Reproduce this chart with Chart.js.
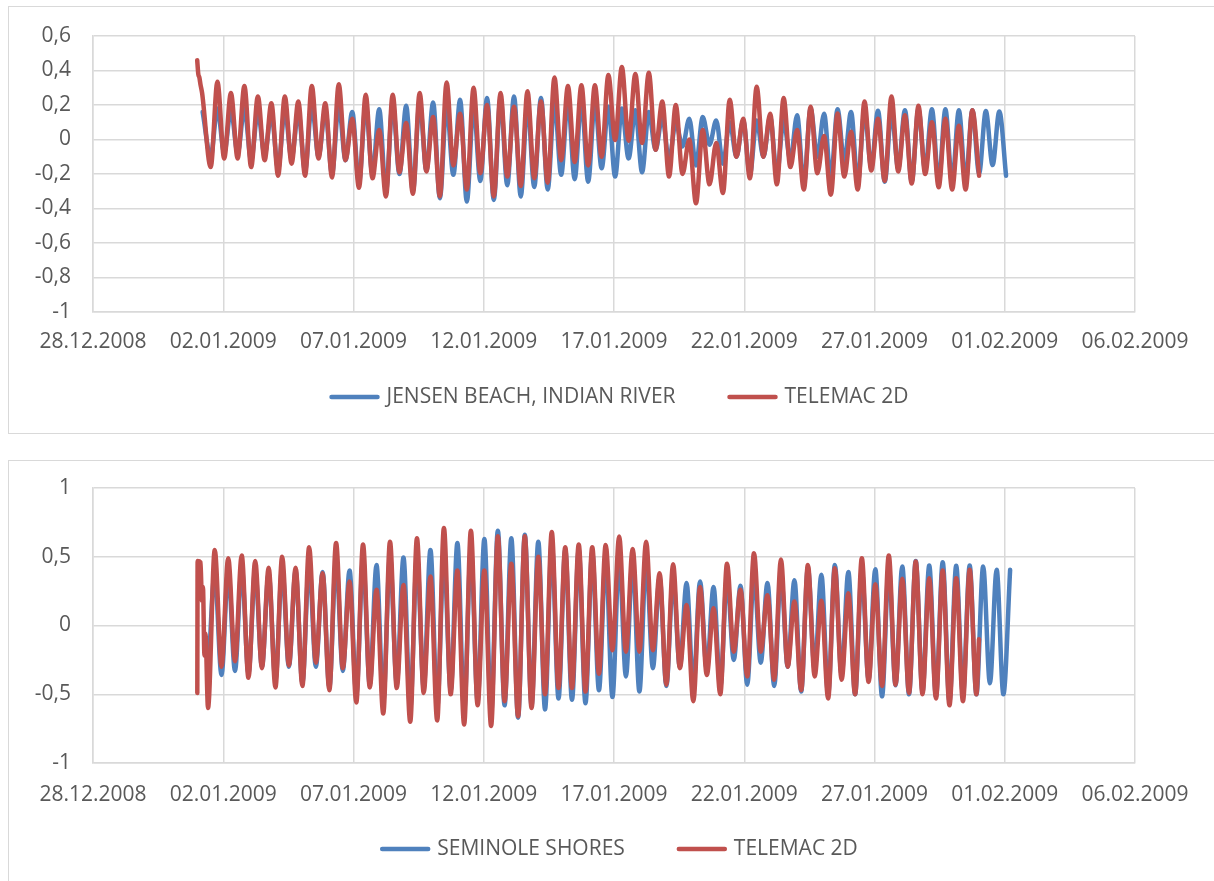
<!DOCTYPE html>
<html>
<head>
<meta charset="utf-8">
<title>Water level: gauges vs TELEMAC 2D</title>
<script src="https://cdn.jsdelivr.net/npm/chart.js@4.4.1/dist/chart.umd.min.js"></script>
<style>
  html, body { margin: 0; padding: 0; background: #fff; overflow: hidden; width: 1214px; height: 881px; }
  .panel { position: absolute; left: 8px; width: 1230px; border: 1px solid #d9d9d9; box-sizing: border-box; background: #fff; }
  #panelJensen { top: 6px; height: 428px; }
  #panelSeminole { top: 460px; height: 440px; }
  canvas { display: block; }
</style>
</head>
<body>
<div class="panel" id="panelJensen"><canvas id="chartJensen" width="1228" height="426"></canvas></div>
<div class="panel" id="panelSeminole"><canvas id="chartSeminole" width="1228" height="426"></canvas></div>

<script>
// ---- axis labels ----------------------------------------------------------
// x axis: days counted from 28.12.2008, one label every 5 days
const xTickLabels = ['28.12.2008', '02.01.2009', '07.01.2009', '12.01.2009', '17.01.2009',
                     '22.01.2009', '27.01.2009', '01.02.2009', '06.02.2009'];
const jensenYTickLabels = ['-1', '-0,8', '-0,6', '-0,4', '-0,2', '0', '0,2', '0,4', '0,6'];
const seminoleYTickLabels = ['-1', '-0,5', '0', '0,5', '1'];

// ---- time base ------------------------------------------------------------
// successive high / low waters are half a semidiurnal (12.42 h) period apart
const HALF_TIDE_DAYS = 12.42 / 2 / 24;
const DAY_JAN_1 = 4;                    // 01.01.2009 00:00 in days after 28.12.2008
const jensenFirstExtremeDay = 4.518;    // first low water after the model start
const seminoleFirstExtremeDay = 4.415;

// ---- JENSEN BEACH, INDIAN RIVER (m) ----------------------------------------
const jensenObsLeadHours = [5];
const jensenObsLead = [0.16];
const jensenObs = [
  -0.10, 0.18, -0.08, 0.17, -0.08, 0.18, -0.12, 0.16, -0.09, 0.15,
  -0.17, 0.17, -0.11, 0.16, -0.18, 0.20, -0.10, 0.17, -0.20, 0.20,
  -0.12, 0.16, -0.25, 0.20, -0.20, 0.175, -0.30, 0.21, -0.20, 0.195,
  -0.30, 0.22, -0.18, 0.215, -0.34, 0.20, -0.205, 0.23, -0.36, 0.20,
  -0.24, 0.24, -0.35, 0.24, -0.265, 0.25, -0.33, 0.21, -0.275, 0.24,
  -0.29, 0.22, -0.205, 0.23, -0.23, 0.23, -0.245, 0.22, -0.167, 0.19,
  -0.215, 0.18, -0.11, 0.17, -0.19, 0.16, -0.06, 0.13, -0.12, 0.10,
  -0.04, 0.12, -0.15, 0.13, -0.03, 0.11, -0.14, 0.10, -0.10, 0.11,
  -0.20, 0.11, -0.10, 0.13, -0.20, 0.11, -0.12, 0.14, -0.26, 0.18,
  -0.10, 0.15, -0.225, 0.175, -0.13, 0.16, -0.25, 0.16, -0.16, 0.167,
  -0.245, 0.16, -0.167, 0.17, -0.245, 0.175, -0.177, 0.175, -0.25, 0.175,
  -0.25, 0.17, -0.245, 0.17, -0.196, 0.165, -0.148, 0.163, -0.21
];
const jensenModelLeadHours = [0, 1, 2, 3, 4.5];
const jensenModelLead = [0.46, 0.38, 0.36, 0.32, 0.27];
const jensenModel = [
  -0.16, 0.335, -0.11, 0.27, -0.11, 0.31, -0.16, 0.25, -0.12, 0.21,
  -0.21, 0.25, -0.14, 0.22, -0.21, 0.31, -0.11, 0.21, -0.22, 0.32,
  -0.12, 0.12, -0.28, 0.26, -0.225, 0.055, -0.33, 0.26, -0.19, 0.095,
  -0.315, 0.27, -0.185, 0.13, -0.33, 0.33, -0.15, 0.15, -0.29, 0.30,
  -0.195, 0.20, -0.33, 0.27, -0.215, 0.19, -0.27, 0.28, -0.225, 0.22,
  -0.25, 0.36, -0.12, 0.31, -0.13, 0.315, -0.15, 0.315, -0.10, 0.374,
  -0.003, 0.42, -0.007, 0.38, -0.02, 0.387, -0.06, 0.22, -0.215, 0.20,
  -0.20, 0.0, -0.37, 0.055, -0.26, -0.02, -0.31, 0.23, -0.10, 0.12,
  -0.225, 0.306, -0.10, 0.15, -0.26, 0.24, -0.16, 0.055, -0.29, 0.19,
  -0.196, 0.02, -0.32, 0.15, -0.215, 0.045, -0.29, 0.22, -0.18, 0.12,
  -0.24, 0.25, -0.185, 0.14, -0.255, 0.195, -0.20, 0.10, -0.277, 0.12,
  -0.29, 0.08, -0.29, 0.17, -0.21
];

// ---- SEMINOLE SHORES (m) ---------------------------------------------------
const seminoleObs = [
  -0.40, 0.38, -0.36, 0.40, -0.33, 0.42, -0.35, 0.40, -0.30, 0.38,
  -0.40, 0.42, -0.30, 0.40, -0.42, 0.45, -0.30, 0.39, -0.45, 0.48,
  -0.33, 0.40, -0.50, 0.48, -0.43, 0.44, -0.55, 0.50, -0.42, 0.494,
  -0.60, 0.50, -0.45, 0.55, -0.60, 0.52, -0.47, 0.60, -0.62, 0.55,
  -0.55, 0.63, -0.64, 0.69, -0.58, 0.635, -0.67, 0.66, -0.58, 0.61,
  -0.61, 0.60, -0.53, 0.55, -0.54, 0.55, -0.565, 0.53, -0.47, 0.50,
  -0.52, 0.50, -0.37, 0.48, -0.48, 0.48, -0.31, 0.35, -0.44, 0.35,
  -0.30, 0.31, -0.45, 0.32, -0.32, 0.28, -0.45, 0.35, -0.25, 0.29,
  -0.43, 0.38, -0.27, 0.31, -0.44, 0.38, -0.30, 0.33, -0.48, 0.42,
  -0.32, 0.37, -0.50, 0.44, -0.36, 0.39, -0.50, 0.40, -0.395, 0.41,
  -0.515, 0.42, -0.435, 0.43, -0.50, 0.47, -0.48, 0.436, -0.515, 0.46,
  -0.55, 0.434, -0.50, 0.436, -0.50, 0.43, -0.42, 0.405, -0.50, 0.405
];
const seminoleModelLeadHours = [0.1, 0.4, 3.0, 4.4, 5.3, 6.7, 7.6];
const seminoleModelLead = [-0.49, 0.47, 0.46, 0.18, 0.28, -0.22, -0.06];
const seminoleModel = [
  -0.60, 0.55, -0.30, 0.49, -0.26, 0.51, -0.38, 0.47, -0.31, 0.42,
  -0.45, 0.50, -0.29, 0.42, -0.44, 0.57, -0.27, 0.38, -0.47, 0.60,
  -0.31, 0.32, -0.56, 0.59, -0.45, 0.26, -0.64, 0.61, -0.455, 0.295,
  -0.70, 0.635, -0.49, 0.356, -0.69, 0.71, -0.50, 0.40, -0.72, 0.69,
  -0.58, 0.40, -0.73, 0.65, -0.55, 0.45, -0.66, 0.65, -0.60, 0.50,
  -0.50, 0.68, -0.455, 0.57, -0.455, 0.59, -0.48, 0.57, -0.35, 0.586,
  -0.18, 0.647, -0.19, 0.557, -0.19, 0.61, -0.18, 0.38, -0.43, 0.445,
  -0.31, 0.15, -0.55, 0.28, -0.36, 0.126, -0.50, 0.45, -0.19, 0.26,
  -0.37, 0.525, -0.19, 0.22, -0.395, 0.48, -0.30, 0.175, -0.47, 0.44,
  -0.37, 0.18, -0.53, 0.417, -0.395, 0.235, -0.50, 0.49, -0.41, 0.30,
  -0.44, 0.51, -0.43, 0.34, -0.49, 0.465, -0.50, 0.344, -0.53, 0.40,
  -0.58, 0.344, -0.55, 0.405, -0.50
];
const seminoleModelTailDays = [34.01];
const seminoleModelTail = [-0.10];

// ---- build {x, y} series ----------------------------------------------------
function buildSeries(firstDay, extremes, leadHours, leadValues, tailDays, tailValues) {
  const pts = [];
  (leadHours || []).forEach((h, i) => pts.push({ x: DAY_JAN_1 + h / 24, y: leadValues[i] }));
  extremes.forEach((v, i) => pts.push({ x: firstDay + i * HALF_TIDE_DAYS, y: v }));
  (tailDays || []).forEach((d, i) => pts.push({ x: d, y: tailValues[i] }));
  return pts;
}

const BLUE = '#4F81BD';
const RED = '#C0504D';
const TEXT = '#595959';
const GRID = '#d9d9d9';
const FONT = "'Open Sans', 'Noto Sans', sans-serif";

function lineDataset(label, color, points, order) {
  return {
    label, data: points, borderColor: color, backgroundColor: color,
    borderWidth: 4.5, pointRadius: 0, fill: false, order,
    cubicInterpolationMode: 'monotone', borderCapStyle: 'round', borderJoinStyle: 'round'
  };
}

// legend below the plot: short line sample followed by the series name
const lineLegend = {
  id: 'lineLegend',
  afterDraw(chart, args, opts) {
    const ctx = chart.ctx;
    ctx.save();
    ctx.font = `${opts.fontSize}px ${FONT}`;
    const items = chart.data.datasets.map(ds => ({
      text: ds.label, color: ds.borderColor,
      w: opts.lineLength + opts.textGap + ctx.measureText(ds.label).width
    }));
    const total = items.reduce((s, it) => s + it.w, 0) + opts.itemGap * (items.length - 1);
    let x = chart.width / 2 - total / 2 + opts.shift;
    const y = opts.y;
    ctx.textBaseline = 'middle';
    ctx.textAlign = 'left';
    ctx.lineCap = 'round';
    items.forEach(it => {
      ctx.strokeStyle = it.color;
      ctx.lineWidth = 4.5;
      ctx.beginPath();
      ctx.moveTo(x + 2, y);
      ctx.lineTo(x + opts.lineLength - 2, y);
      ctx.stroke();
      ctx.fillStyle = TEXT;
      ctx.fillText(it.text, x + opts.lineLength + opts.textGap, y);
      x += it.w + opts.itemGap;
    });
    ctx.restore();
  }
};

function makeChart(canvasId, datasets, yMin, yMax, yStep, yLabels, layout) {
  return new Chart(document.getElementById(canvasId), {
    type: 'line',
    data: { datasets },
    plugins: [lineLegend],
    options: {
      responsive: false, animation: false, devicePixelRatio: 1,
      layout: { padding: { left: 0, right: 102, top: layout.top, bottom: layout.bottom } },
      plugins: {
        legend: { display: false }, tooltip: { enabled: false },
        lineLegend: { y: layout.legendY, fontSize: 21, lineLength: 50, textGap: 7, itemGap: 52, shift: -4 }
      },
      scales: {
        x: {
          type: 'linear', min: 0, max: 40,
          afterFit: s => { s.height = 45; },
          grid: { color: GRID, lineWidth: 1.5, drawTicks: false },
          border: { color: GRID, width: 1.5 },
          ticks: {
            stepSize: 5, padding: layout.xPad, color: TEXT, maxRotation: 0, autoSkip: false,
            font: { family: FONT, size: 21 },
            callback: (v, i) => xTickLabels[i]
          }
        },
        y: {
          min: yMin, max: yMax,
          // fixed axis width; the top/bottom labels only need half a line of room
          afterFit: s => { s.width = 84; s.paddingTop = 12; s.paddingBottom = 12; },
          grid: { color: GRID, lineWidth: 1.5, drawTicks: false },
          border: { color: GRID, width: 1.5 },
          ticks: {
            stepSize: yStep, padding: 22, color: TEXT,
            font: { family: FONT, size: 21 },
            callback: (v, i) => yLabels[i]
          }
        }
      }
    }
  });
}

makeChart('chartJensen', [
  lineDataset('JENSEN BEACH, INDIAN RIVER', BLUE,
    buildSeries(jensenFirstExtremeDay, jensenObs, jensenObsLeadHours, jensenObsLead), 1),
  lineDataset('TELEMAC 2D', RED,
    buildSeries(jensenFirstExtremeDay, jensenModel, jensenModelLeadHours, jensenModelLead), 0)
], -1, 0.6, 0.2, jensenYTickLabels, { top: 29, bottom: 76, legendY: 390, xPad: 17 });

makeChart('chartSeminole', [
  lineDataset('SEMINOLE SHORES', BLUE,
    buildSeries(seminoleFirstExtremeDay, seminoleObs), 1),
  lineDataset('TELEMAC 2D', RED,
    buildSeries(seminoleFirstExtremeDay, seminoleModel, seminoleModelLeadHours, seminoleModelLead,
                seminoleModelTailDays, seminoleModelTail), 0)
], -1, 1, 0.5, seminoleYTickLabels, { top: 27, bottom: 79, legendY: 388, xPad: 19 });
</script>
</body>
</html>
